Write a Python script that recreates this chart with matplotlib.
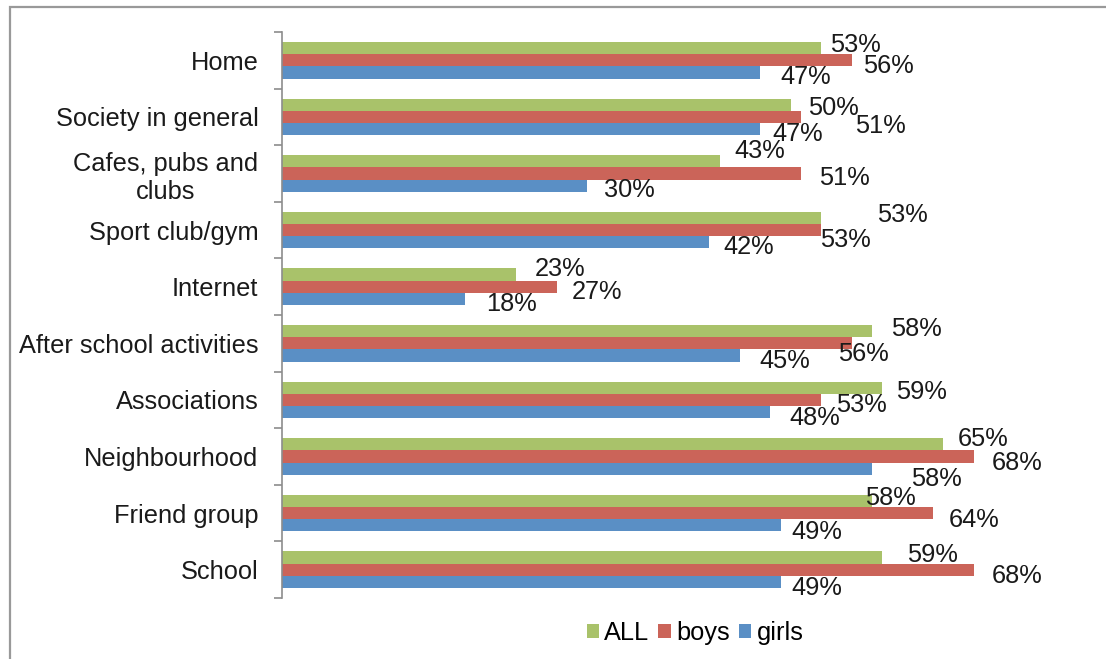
import matplotlib
matplotlib.use("Agg")
import matplotlib.pyplot as plt
from matplotlib.patches import Rectangle

plt.rcParams["font.family"] = ["Liberation Sans", "DejaVu Sans"]

# 各场所的占比（%），从上到下
categories = [
    "Home",
    "Society in general",
    "Cafes, pubs and\nclubs",
    "Sport club/gym",
    "Internet",
    "After school activities",
    "Associations",
    "Neighbourhood",
    "Friend group",
    "School",
]
all_vals = [53, 50, 43, 53, 23, 58, 59, 65, 58, 59]
boys_vals = [56, 51, 51, 53, 27, 56, 53, 68, 64, 68]
girls_vals = [47, 47, 30, 42, 18, 45, 48, 58, 49, 49]

series_names = ["ALL", "boys", "girls"]
colors = ["#A9C26A", "#CB6459", "#5A8FC5"]

# 数据标签的手动微调（像素，dx 向右，dy 向下），避免互相压住
label_nudge = {
    "ALL": [(9, -6), (17, 1), (15, -13), (56, -5), (19, -8),
            (19, -5), (14, 2), (14, -8), (-7, -5), (25, -5)],
    "boys": [(11, 3), (54, 7), (18, 2), (-1, 7), (15, 3),
             (-14, 8), (15, 3), (18, 4), (16, 4), (18, 4)],
    "girls": [(20, 2), (12, 2), (17, 2), (14, 2), (21, 3),
              (19, 3), (19, 3), (39, 8), (11, 4), (11, 4)],
}

FS = 18.3
W, H = 1106, 659
fig = plt.figure(figsize=(W / 100, H / 100), dpi=100)

# 外框（只露出上边和左边）
fig.patches.append(Rectangle((10 / W, -0.1), 1.2, 1 - 7 / H + 0.1,
                             transform=fig.transFigure, fill=False,
                             edgecolor="#999999", linewidth=1.6))

ax = fig.add_axes([282 / W, 1 - 598 / H, 814 / W, 566 / H])

bar_h = 0.216
offsets = [-bar_h, 0, bar_h]
ys = range(len(categories))
for name, vals, col, off in zip(series_names, [all_vals, boys_vals, girls_vals], colors, offsets):
    pos = [y + off for y in ys]
    ax.barh(pos, vals, height=bar_h, color=col, label=name, linewidth=0)
    for p, v, (dx, dy) in zip(pos, vals, label_nudge[name]):
        ax.annotate(f"{v}%", xy=(v, p), xytext=(dx, -dy), textcoords="offset pixels",
                    ha="left", va="center_baseline", fontsize=FS, color="#1a1a1a")

ax.set_xlim(0, 80)
ax.set_ylim(len(categories) - 0.5, -0.5)

# 刻度线在分组边界，文字在分组中间
ax.set_yticks([i - 0.5 for i in range(len(categories) + 1)])
ax.set_yticklabels([])
ax.set_yticks(list(ys), minor=True)
ax.set_yticklabels(categories, minor=True, fontsize=FS, color="#1a1a1a", ha="right",
                   multialignment="center")
ax.tick_params(axis="y", which="major", direction="out", length=5.5, width=1.2, color="#8c8c8c")
ax.tick_params(axis="y", which="minor", length=0, pad=17)
ax.xaxis.set_visible(False)
for s in ["top", "right", "bottom"]:
    ax.spines[s].set_visible(False)
ax.spines["left"].set_color("#8c8c8c")
ax.spines["left"].set_linewidth(1.2)

fig.legend(loc="center", bbox_to_anchor=(695 / W, 1 - 633 / H), ncol=3, frameon=False,
           fontsize=FS, handlelength=0.5, handleheight=0.5, handletextpad=0.2,
           columnspacing=0.35, borderpad=0)

fig.savefig("out.png", dpi=100)
